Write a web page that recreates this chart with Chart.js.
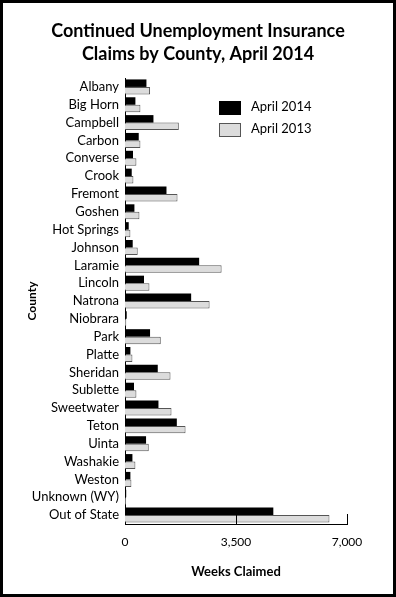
<!DOCTYPE html>
<html>
<head>
<meta charset="utf-8">
<script src="https://cdn.jsdelivr.net/npm/chart.js@4"></script>
<style>
  body { margin: 0; background: #fff; }
  #wrap { position: relative; width: 396px; height: 597px; }
  #frame { position: absolute; left: 0; top: 0; width: 396px; height: 597px; box-sizing: border-box; border: 3px solid #000; pointer-events: none; }
  .leg { position: absolute; left: 219px; font: 13px Lato, sans-serif; color: #000; }
  .leg span { display: inline-block; width: 22px; height: 14px; vertical-align: middle; margin-right: 10px; box-sizing: border-box; }
</style>
</head>
<body>
<div id="wrap">
  <canvas id="chart" width="396" height="597"></canvas>
  <div class="leg" style="top:98px"><span style="background:#000"></span>April 2014</div>
  <div class="leg" style="top:120px"><span style="background:#dcdcdc;border:1px solid #555"></span>April 2013</div>
  <div id="frame"></div>
</div>
<script>
const counties = ['Albany', 'Big Horn', 'Campbell', 'Carbon', 'Converse', 'Crook', 'Fremont', 'Goshen',
  'Hot Springs', 'Johnson', 'Laramie', 'Lincoln', 'Natrona', 'Niobrara', 'Park', 'Platte', 'Sheridan',
  'Sublette', 'Sweetwater', 'Teton', 'Uinta', 'Washakie', 'Weston', 'Unknown (WY)', 'Out of State'];
const april2014 = [676, 328, 897, 433, 253, 212, 1308, 297, 117, 243, 2338, 600, 2086, 54, 790, 170, 1033,
  284, 1055, 1634, 664, 234, 170, 38, 4677];
const april2013 = [790, 486, 1697, 486, 360, 265, 1656, 455, 170, 401, 3046, 771, 2667, 40, 1128, 234, 1435,
  360, 1466, 1909, 749, 328, 202, 30, 6447];
const xTicks = [0, 3500, 7000];

// small upward tick marks on the x axis, drawn over the bars
const innerTicks = {
  id: 'innerTicks',
  afterDatasetsDraw(chart) {
    const ctx = chart.ctx, x = chart.scales.x, bottom = chart.chartArea.bottom;
    ctx.save();
    ctx.strokeStyle = '#000';
    ctx.lineWidth = 1;
    xTicks.slice(1).forEach(v => {
      const px = Math.round(x.getPixelForValue(v)) + 0.5;
      ctx.beginPath();
      ctx.moveTo(px, bottom);
      ctx.lineTo(px, bottom - 10);
      ctx.stroke();
    });
    ctx.restore();
  }
};

new Chart(document.getElementById('chart'), {
  type: 'bar',
  data: {
    labels: counties,
    datasets: [
      { label: 'April 2014', data: april2014, backgroundColor: '#000', borderColor: '#000', borderWidth: 0 },
      { label: 'April 2013', data: april2013, backgroundColor: '#dcdcdc', borderColor: '#555', borderWidth: 1 }
    ]
  },
  options: {
    indexAxis: 'y',
    responsive: false,
    animation: false,
    layout: { padding: { top: 0, right: 0, bottom: 13, left: 0 } },
    datasets: { bar: { categoryPercentage: 0.84, barPercentage: 1.0 } },
    plugins: {
      legend: { display: false },
      tooltip: { enabled: false },
      title: {
        display: true,
        text: ['Continued Unemployment Insurance', 'Claims by County, April 2014'],
        color: '#000',
        font: { family: 'Lato', size: 18, weight: 'bold', lineHeight: 1.25 },
        padding: { top: 20, bottom: 13 }
      }
    },
    scales: {
      x: {
        min: 0, max: 7000,
        afterFit: s => { s.height = 60; },
        afterBuildTicks: s => { s.ticks = xTicks.map(v => ({ value: v })); },
        grid: { display: false, drawTicks: false },
        border: { display: true, color: '#000', width: 1 },
        ticks: {
          color: '#000', padding: 11, maxRotation: 0,
          font: { family: 'Lato', size: 12 },
          callback: v => v.toLocaleString('en-US')
        },
        title: {
          display: true, text: 'Weeks Claimed', color: '#000',
          font: { family: 'Lato', size: 13, weight: 'bold' },
          padding: { top: 0, bottom: 4 }
        }
      },
      y: {
        afterFit: s => { s.width = 125; },
        grid: { display: false, drawTicks: false },
        border: { display: true, color: '#000', width: 1 },
        ticks: { color: '#000', padding: 6, autoSkip: false, font: { family: 'Lato', size: 13 } },
        title: {
          display: true, text: 'County', color: '#000',
          font: { family: 'Lato', size: 12, weight: 'bold' },
          padding: { top: 25, bottom: 0 }
        }
      },
      // empty right-hand margin so the title is centred on the whole page
      yRight: {
        type: 'category',
        position: 'right',
        afterFit: s => { s.width = 49; },
        grid: { display: false, drawTicks: false },
        border: { display: false },
        ticks: { display: false }
      }
    }
  },
  plugins: [innerTicks]
});
</script>
</body>
</html>
